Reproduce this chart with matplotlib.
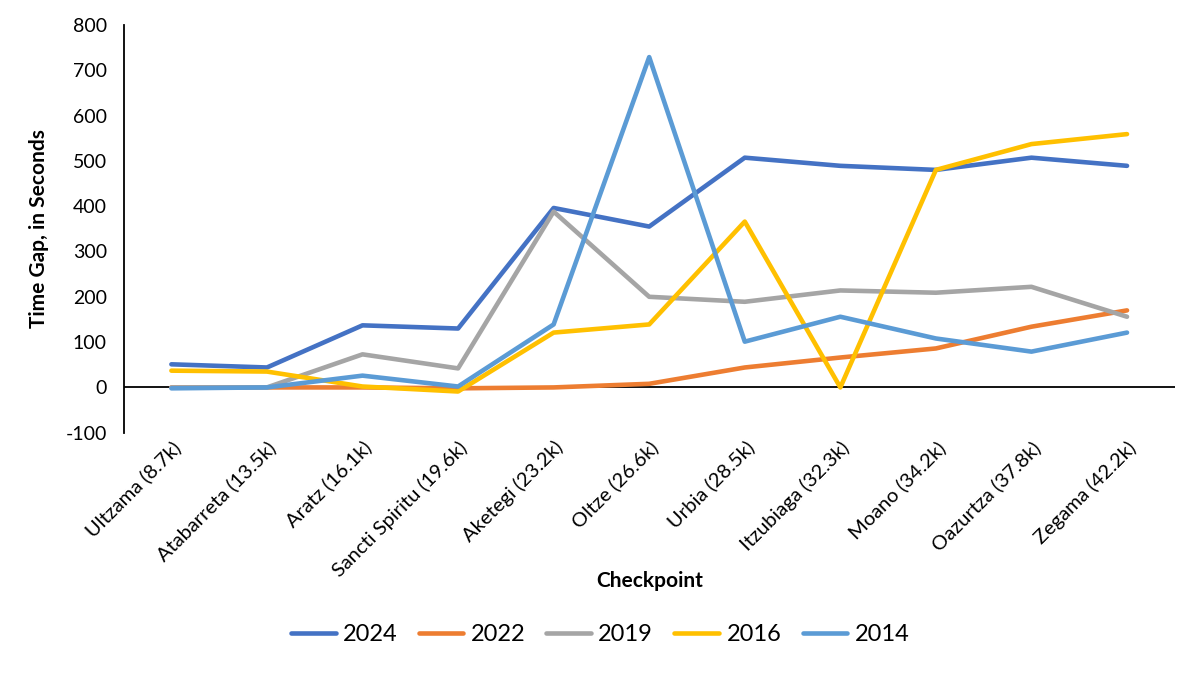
import matplotlib.pyplot as plt

# Checkpoints and time gaps (seconds)
checkpoints = ['Ultzama (8.7k)', 'Atabarreta (13.5k)', 'Aratz (16.1k)', 'Sancti Spiritu (19.6k)',
               'Aketegi (23.2k)', 'Oltze (26.6k)', 'Urbia (28.5k)', 'Itzubiaga (32.3k)',
               'Moano (34.2k)', 'Oazurtza (37.8k)', 'Zegama (42.2k)']
gap_2024 = [51, 44, 137, 130, 396, 355, 507, 489, 480, 507, 489]
gap_2022 = [0, 0, 0, -2, 0, 8, 44, 66, 86, 134, 170]
gap_2019 = [0, 0, 73, 42, 388, 200, 189, 214, 209, 222, 156]
gap_2016 = [37, 35, 2, -9, 121, 139, 366, 0, 480, 537, 559]
gap_2014 = [-2, 0, 26, 2, 139, 729, 101, 156, 108, 79, 121]

series = [('2024', gap_2024, '#4472C4'),
          ('2022', gap_2022, '#ED7D31'),
          ('2019', gap_2019, '#A5A5A5'),
          ('2016', gap_2016, '#FFC000'),
          ('2014', gap_2014, '#5B9BD5')]

plt.rcParams['font.family'] = ['Lato', 'DejaVu Sans']
plt.rcParams['axes.unicode_minus'] = False

fig = plt.figure(figsize=(12, 6.73), dpi=100)
ax = fig.add_axes([0.103, 0.357, 0.876, 0.606])

x = range(len(checkpoints))
for name, vals, col in series:
    ax.plot(x, vals, color=col, lw=3.3, label=name, solid_capstyle='round', solid_joinstyle='round')

ax.axhline(0, color='black', lw=1.3, zorder=1)
ax.set_xlim(-0.5, len(checkpoints) - 0.5)
ax.set_ylim(-100, 800)
ax.set_yticks(range(-100, 801, 100))

for s in ['top', 'right', 'bottom']:
    ax.spines[s].set_visible(False)
ax.spines['left'].set_linewidth(1.3)
ax.tick_params(axis='y', length=0, labelsize=14, pad=12)
ax.tick_params(axis='x', length=0, labelsize=14.5, pad=4)
ax.set_xticks(list(x))
ax.set_xticklabels(checkpoints, rotation=45, ha='right', rotation_mode='anchor')

ax.set_ylabel('Time Gap, in Seconds', fontsize=15, fontweight='bold', labelpad=12)
ax.set_xlabel('Checkpoint', fontsize=15, fontweight='bold', labelpad=-6)

fig.legend(loc='center', bbox_to_anchor=(0.5, 0.057), ncol=5, frameon=False,
           fontsize=17, handlelength=1.9, handletextpad=0.3, columnspacing=0.9)

fig.savefig('out.png', dpi=100)
